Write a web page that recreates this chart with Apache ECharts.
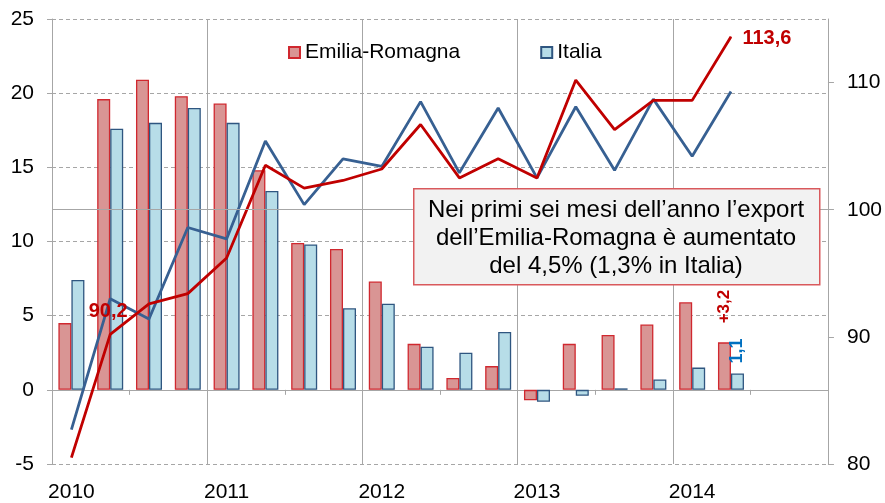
<!DOCTYPE html>
<html><head><meta charset="utf-8">
<script src="https://cdn.jsdelivr.net/npm/echarts@6/dist/echarts.min.js"></script>
<style>html,body{margin:0;padding:0;background:#fff}#c{width:885px;height:503px}</style>
</head><body><div id="c"></div>
<script>
const categories = ['2010 T1','2010 T2','2010 T3','2010 T4','2011 T1','2011 T2','2011 T3','2011 T4','2012 T1','2012 T2','2012 T3','2012 T4','2013 T1','2013 T2','2013 T3','2013 T4','2014 T1','2014 T2','2014 T3','2014 T4'];
const yearLabels = ['2010','2011','2012','2013','2014'];
const seriesNames = ['Emilia-Romagna','Italia'];
const erVar = [4.5,19.6,20.9,19.8,19.3,14.8,9.9,9.5,7.3,3.1,0.8,1.6,-0.7,3.1,3.7,4.4,5.9,3.2];
const itVar = [7.4,17.6,18.0,19.0,18.0,13.4,9.8,5.5,5.8,2.9,2.5,3.9,-0.8,-0.4,0.1,0.7,1.5,1.1];
const erIdx = [80.5,90.2,92.6,93.4,96.2,103.5,101.7,102.3,103.2,106.7,102.5,104.0,102.5,110.2,106.3,108.6,108.6,113.6];
const itIdx = [82.7,93.0,91.4,98.6,97.7,105.4,100.4,104.0,103.4,108.5,102.9,108.0,102.5,108.1,103.1,108.7,104.2,109.3];
const leftTicks = [-5,0,5,10,15,20,25];
const rightTicks = [80,90,100,110];
const refLine = 100;
const boxText = ['Nei primi sei mesi dell\u2019anno l\u2019export','dell\u2019Emilia-Romagna è aumentato','del 4,5% (1,3% in Italia)'];

const FONT = '"Liberation Sans", Arial, sans-serif';
const fmt = v => String(v.toFixed(1)).replace('.', ',');
const last = erVar.length - 1;

const erData = erVar.map((v,i) => i === last ? {value:v, label:{show:true, position:'top', rotate:90, align:'left', verticalAlign:'middle', distance:18, offset:[1,0], formatter: p => '+' + fmt(p.value), color:'#c00000', fontWeight:'bold', fontSize:17, fontFamily:FONT}} : v);
const itData = itVar.map((v,i) => i === last ? {value:v, label:{show:true, position:'top', rotate:90, align:'left', verticalAlign:'middle', distance:8, offset:[2,0], formatter: p => fmt(p.value), color:'#0070c0', fontWeight:'bold', fontSize:18, fontFamily:FONT}} : v);
const erLineData = erIdx.map((v,i) => {
  if (i === 1) return {value:v, symbol:'circle', symbolSize:1, label:{show:true, position:'top', distance:12, offset:[-2,0], formatter: p => fmt(p.value), color:'#c00000', fontWeight:'bold', fontSize:20, fontFamily:FONT}};
  if (i === erIdx.length-1) return {value:v, symbol:'circle', symbolSize:1, label:{show:true, position:'right', distance:11, offset:[0,2], formatter: p => fmt(p.value), color:'#c00000', fontWeight:'bold', fontSize:20, fontFamily:FONT}};
  return v;
});

const chart = echarts.init(document.getElementById('c'), null, {renderer:'canvas'});
const gray = '#a6a6a6';
chart.setOption({
  animation:false,
  textStyle:{fontFamily:FONT},
  grid:{left:52, right:57, top:19, bottom:36, containLabel:false},
  legend:{
    left:288, top:42, padding:0, itemWidth:11, itemHeight:11, itemGap:80,
    textStyle:{fontSize:21, color:'#000', fontFamily:FONT},
    data:[{name:seriesNames[0], icon:'rect'},{name:seriesNames[1], icon:'rect'}]
  },
  xAxis:[
    {type:'category', data:categories, boundaryGap:true,
     axisLine:{show:true, onZero:true, onZeroAxisIndex:0, lineStyle:{color:gray, width:1}},
     axisTick:{show:true, interval:1, length:5, lineStyle:{color:gray}},
     axisLabel:{show:false}, splitLine:{show:false}},
    {type:'category', data:categories, boundaryGap:true, position:'bottom',
     axisLine:{show:false, onZero:false}, axisTick:{show:false},
     axisLabel:{show:true, interval:3, margin:18, fontSize:21, color:'#000', fontFamily:FONT,
       formatter:(v,i) => yearLabels[i/4] || ''},
     splitLine:{show:true, interval:3, lineStyle:{color:gray, width:1, type:'solid'}}}
  ],
  yAxis:[
    {type:'value', min:-5, max:25, interval:5, position:'left',
     axisLine:{show:true, lineStyle:{color:gray}},
     axisTick:{show:true, length:5, lineStyle:{color:gray}},
     axisLabel:{fontSize:21, color:'#000', margin:18, fontFamily:FONT, customValues:leftTicks},
     splitLine:{show:true, lineStyle:{color:gray, type:[4,3], width:1}}},
    {type:'value', min:80, max:115, position:'right',
     axisLine:{show:true, lineStyle:{color:gray}},
     axisTick:{show:true, length:6, customValues:rightTicks, lineStyle:{color:gray}},
     axisLabel:{fontSize:21, color:'#000', margin:19, fontFamily:FONT, customValues:rightTicks},
     splitLine:{show:false}}
  ],
  graphic:[
    {type:'rect', left:413, top:188, z:100, shape:{width:406, height:96},
     style:{fill:'#f2f2f2', stroke:'#d9595c', lineWidth:1.5}},
    {type:'text', z:101, x:616, y:238,
     style:{text:boxText.join('\n'), align:'center', verticalAlign:'middle', fontSize:24, lineHeight:28, fontFamily:FONT, fill:'#000'}}
  ],
  series:[
    {type:'line', name:'ref', xAxisIndex:0, yAxisIndex:1, data:[], z:1, silent:true,
     markLine:{silent:true, symbol:['none','none'], label:{show:false},
       lineStyle:{color:gray, type:'solid', width:1}, data:[{yAxis:refLine}]}},
    {type:'bar', name:seriesNames[0], xAxisIndex:0, yAxisIndex:0, data:erData, barWidth:13, barGap:'0%', z:2,
     itemStyle:{color:'#d99594', borderColor:'#d0282f', borderWidth:1.3}},
    {type:'bar', name:seriesNames[1], xAxisIndex:0, yAxisIndex:0, data:itData, barWidth:13, barGap:'0%', z:2,
     itemStyle:{color:'#b7dde8', borderColor:'#2f5680', borderWidth:1.3}},
    {type:'line', name:'Emilia-Romagna indice', xAxisIndex:0, yAxisIndex:1, data:erLineData, symbol:'none', z:4,
     lineStyle:{color:'#c00000', width:2.8}, itemStyle:{color:'#c00000'}},
    {type:'line', name:'Italia indice', xAxisIndex:0, yAxisIndex:1, data:itIdx, symbol:'none', z:3,
     lineStyle:{color:'#376092', width:2.8}, itemStyle:{color:'#376092'}}
  ]
});
</script></body></html>
